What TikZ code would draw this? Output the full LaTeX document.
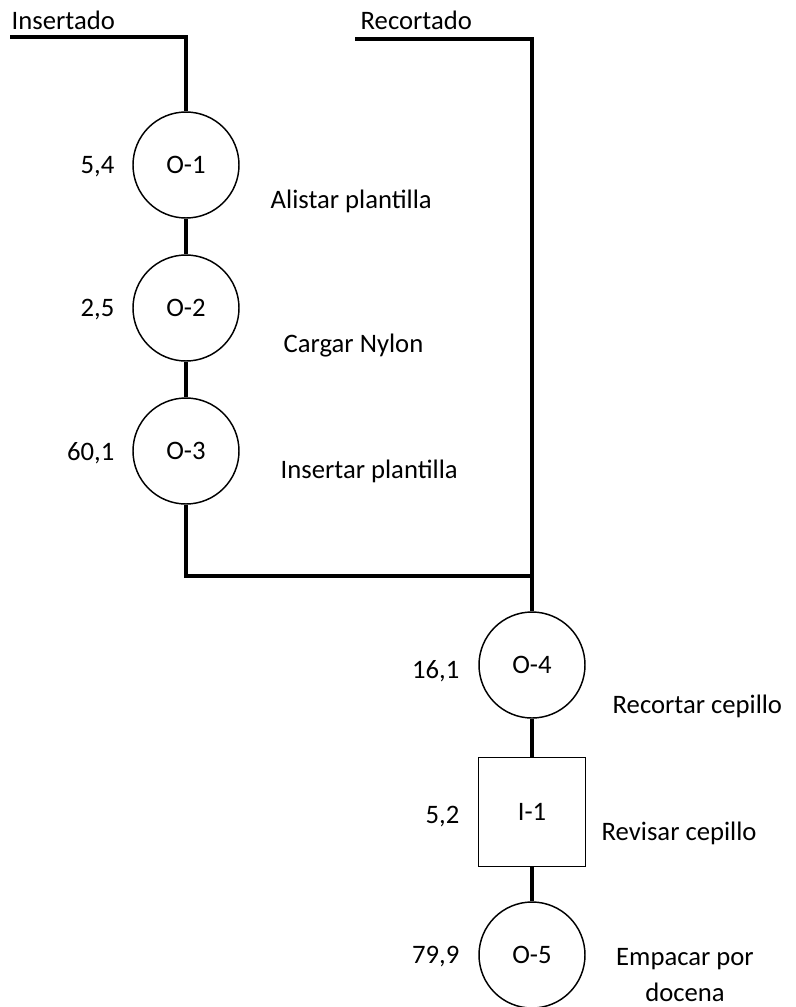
\documentclass[tikz,border=0pt]{standalone}
\usepackage{fontspec}
\setmainfont{Carlito}

\begin{document}
\begin{tikzpicture}[x=0.75pt,y=-0.75pt,
  font=\fontsize{20pt}{27pt}\selectfont,
  oper/.style={draw,circle,line width=1.1pt,minimum size=79.5pt,inner sep=0pt},
  insp/.style={draw,rectangle,line width=1.1pt,minimum width=80.25pt,minimum height=81.75pt},
  linea/.style={line width=2.4pt},
  tiempo/.style={anchor=east},
  desc/.style={anchor=west}]
  \useasboundingbox (0,0) rectangle (796,1007);

  \node[anchor=west] (insertado) at (7,20) {Insertado};
  \node[anchor=west] (recortado) at (356,20) {Recortado};
  \coordinate (ins) at (10,37);
  \coordinate (rec) at (355,39);
  \coordinate (union) at (532,576);

  \node[oper] (o1) at (186,165) {O-1};
  \node[oper] (o2) at (186,308) {O-2};
  \node[oper] (o3) at (186,451) {O-3};
  \node[oper] (o4) at (532,665) {O-4};
  \node[insp] (i1) at (532,812) {I-1};
  \node[oper] (o5) at (532,955) {O-5};

  \node[tiempo] (t1) at (119,167) {5,4};
  \node[tiempo] (t2) at (119,310) {2,5};
  \node[tiempo] (t3) at (119,453) {60,1};
  \node[tiempo] (t4) at (464,671) {16,1};
  \node[tiempo] (t5) at (464,817) {5,2};
  \node[tiempo] (t6) at (464,957) {79,9};

  \node[desc] (d1) at (266,201) {Alistar plantilla};
  \node[desc] (d2) at (279,346) {Cargar Nylon};
  \node[desc] (d3) at (276,471) {Insertar plantilla};
  \node[desc] (d4) at (608,706) {Recortar cepillo};
  \node[desc] (d5) at (597,833) {Revisar cepillo};
  \node[align=center,inner sep=0pt] (d6) at (685,975) {Empacar por\\docena};

  \draw[linea] (ins) -| (o1);
  \draw[linea] (o1) -- (o2);
  \draw[linea] (o2) -- (o3);
  \draw[linea] (rec) -| (o4);
  \draw[linea] (o3) |- (union);
  \draw[linea] (o4) -- (i1);
  \draw[linea] (i1) -- (o5);
\end{tikzpicture}
\end{document}
